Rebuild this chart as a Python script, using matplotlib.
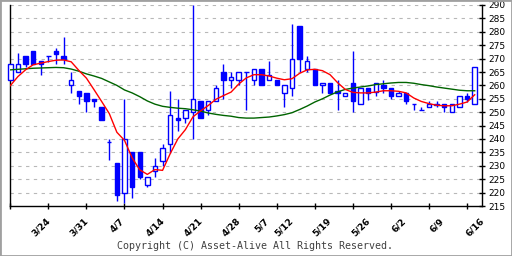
import matplotlib
matplotlib.use("Agg")
import matplotlib.pyplot as plt
from matplotlib.patches import Rectangle

# ---- data ----
opens  = [262, 265, 271, 273, 269.2, 271, 272.9, 271, 260, 258,
          257.1, 255, 252, 239, 231.2, 220, 235.3, 235.3, 223, 228,
          231.7, 238.1, 248, 248, 250, 254.3, 250.8, 254, 265.1, 262,
          262, 265, 262, 266.1, 262, 262.1, 257, 259, 282.2, 266.1,
          266.1, 260, 261, 257.8, 256, 261, 253, 259, 257.4, 260,
          259, 256, 257, 253, 251, 252, 253.2, 253, 250.1, 251.9,
          256, 253]
highs  = [268, 272, 271, 273, 269.2, 271, 273.9, 278.1, 265, 258,
          257.1, 255, 252, 240, 231.2, 255, 235.3, 235.3, 226, 233,
          238, 258, 255, 250.8, 290, 254.3, 254.2, 260.1, 268, 265.1,
          265.1, 265, 266.1, 266.1, 269.2, 262.1, 260.1, 283, 282.2, 271,
          266.1, 261, 261, 262, 257.1, 273, 259, 259, 261, 262.1,
          259, 258, 257, 253, 252, 254.2, 254.2, 253, 253.1, 256,
          257.1, 266.7]
lows   = [262, 265, 266.7, 268, 263.7, 268.7, 268, 268, 257, 252.9,
          250, 251.9, 247, 232, 217, 216, 218, 225, 222, 225.8,
          229.8, 234.8, 243, 245.8, 240, 247.7, 249, 254, 255, 259,
          260, 250.8, 260, 260, 262, 260.1, 251.9, 256, 265, 265,
          260, 257, 257, 250.7, 256, 250, 253, 254.7, 256, 257.1,
          254.8, 256, 252.9, 251, 251, 252, 252, 250, 250.1, 251.9,
          253.9, 253]
closes = [268, 268, 268, 268, 268, 271, 271.9, 269.8, 262, 256,
          254, 254, 247, 239, 219.1, 240, 222, 225.8, 226, 230,
          236.7, 248.9, 247, 250.8, 255, 247.7, 254.2, 259, 262, 263.1,
          265.1, 265, 266.1, 260, 264, 260.1, 260.1, 269.8, 269.8, 269.1,
          260, 261, 257, 257, 257.1, 254, 259, 257, 261, 259,
          256, 257, 254, 253, 251, 253.1, 252.8, 252, 253.1, 256,
          254.9, 266.7]
ma_short = [259.9, 263.3, 265.8, 267.7, 268.3, 268.9, 269.4, 269.5, 268.8, 265.6,
            262.7, 258.4, 254.0, 249.5, 242.5, 239.5, 233.0, 228.5, 226.8, 228.6,
            228.3, 234.5, 240.0, 243.5, 248.3, 250.5, 252.5, 254.8, 256.2, 257.5,
            260.5, 262.8, 264.0, 264.0, 263.5, 262.7, 262.1, 262.5, 264.5, 265.8,
            266.0, 265.5, 264.0, 261.0, 258.5, 257.4, 257.2, 257.2, 257.5, 258.0,
            258.0, 257.8, 257.2, 255.3, 254.0, 253.2, 252.6, 252.4, 252.4, 253.0,
            253.8, 256.5]
ma_long = [265.8, 266.0, 266.2, 266.4, 266.5, 266.6, 266.7, 266.6, 266.1, 265.3,
           264.3, 263.5, 262.6, 261.3, 260.0, 258.3, 257.2, 255.8, 254.2, 253.0,
           252.2, 251.8, 251.5, 251.3, 250.9, 250.4, 249.7, 249.2, 248.8, 248.5,
           248.0, 247.8, 247.8, 248.0, 248.2, 248.6, 249.1, 249.8, 251.0, 252.3,
           253.8, 255.0, 256.4, 257.6, 258.5, 259.0, 259.4, 259.8, 260.3, 260.6,
           260.9, 261.1, 261.1, 260.8, 260.3, 259.9, 259.4, 259.0, 258.6, 258.2,
           258.0, 258.0]
# date labels and the candle index they belong to
date_labels = ["3/24", "3/31", "4/7", "4/14", "4/21", "4/28", "5/7",
               "5/12", "5/19", "5/26", "6/2", "6/9", "6/16"]
date_index = [4, 9, 14, 19, 24, 29, 33, 36, 41, 46, 51, 56, 61]
tick_index = list(range(0, 61, 5))
y_ticks = list(range(215, 291, 5))

BLUE = "#0000ff"

fig = plt.figure(figsize=(5.12, 2.56), dpi=100)
ax = fig.add_axes([10.3 / 512, 1 - 206 / 256, 472 / 512, 201 / 256])

n = len(opens)
xs = list(range(n))
w = 0.58
for i in xs:
    o, h, l, c = opens[i], highs[i], lows[i], closes[i]
    ax.vlines(i, l, h, color=BLUE, lw=1.0, zorder=2, clip_on=False)
    if abs(c - o) < 0.05:
        ax.hlines(o, i - w / 2, i + w / 2, color=BLUE, lw=1.0, zorder=3, clip_on=False)
    else:
        up = c > o
        ax.add_patch(Rectangle((i - w / 2, min(o, c)), w, abs(c - o),
                               facecolor="white" if up else BLUE,
                               edgecolor=BLUE, lw=1.0, zorder=3, clip_on=False))

ax.plot(xs, ma_long, color="#006400", lw=1.0, zorder=4)
ax.plot(xs, ma_short, color="#ff0000", lw=1.0, zorder=5)

ax.set_xlim(0, 62)
ax.set_ylim(215, 290)
for v in y_ticks[1:]:
    ax.axhline(v, color="#b8b8b8", lw=0.8, ls=(0, (3, 4)), zorder=1)

ax.spines["top"].set_visible(False)
for s in ("left", "bottom", "right"):
    ax.spines[s].set_color("black")
    ax.spines[s].set_linewidth(1.0)

ax.yaxis.tick_right()
ax.set_yticks(y_ticks)
ax.set_yticklabels([str(v) for v in y_ticks])
ax.tick_params(axis="y", direction="inout", length=5, width=1, pad=2,
               labelsize=6.5, colors="black")

# major ticks every 5 candles (no labels), minor "ticks" carry the date labels
ax.set_xticks(tick_index)
ax.set_xticklabels([""] * len(tick_index))
ax.tick_params(axis="x", which="major", direction="inout", length=5, width=1)
ax.set_xticks(date_index, minor=True)
ax.set_xticklabels(date_labels, minor=True, rotation=45, ha="center", va="top")
ax.tick_params(axis="x", which="minor", length=0, pad=7.5, labelsize=6.5)
for t in ax.get_xticklabels(minor=True):
    t.set_fontweight("bold")

fig.text(0.498, 0.039, "Copyright (C) Asset-Alive All Rights Reserved.",
         ha="center", va="center", fontsize=7.2, family="DejaVu Sans Mono",
         color="#404040")
fig.patches.append(Rectangle((0, 0), 1, 1, transform=fig.transFigure,
                             fill=False, edgecolor="#a0a0a0", lw=2.0))

fig.savefig("out.png", dpi=100)
